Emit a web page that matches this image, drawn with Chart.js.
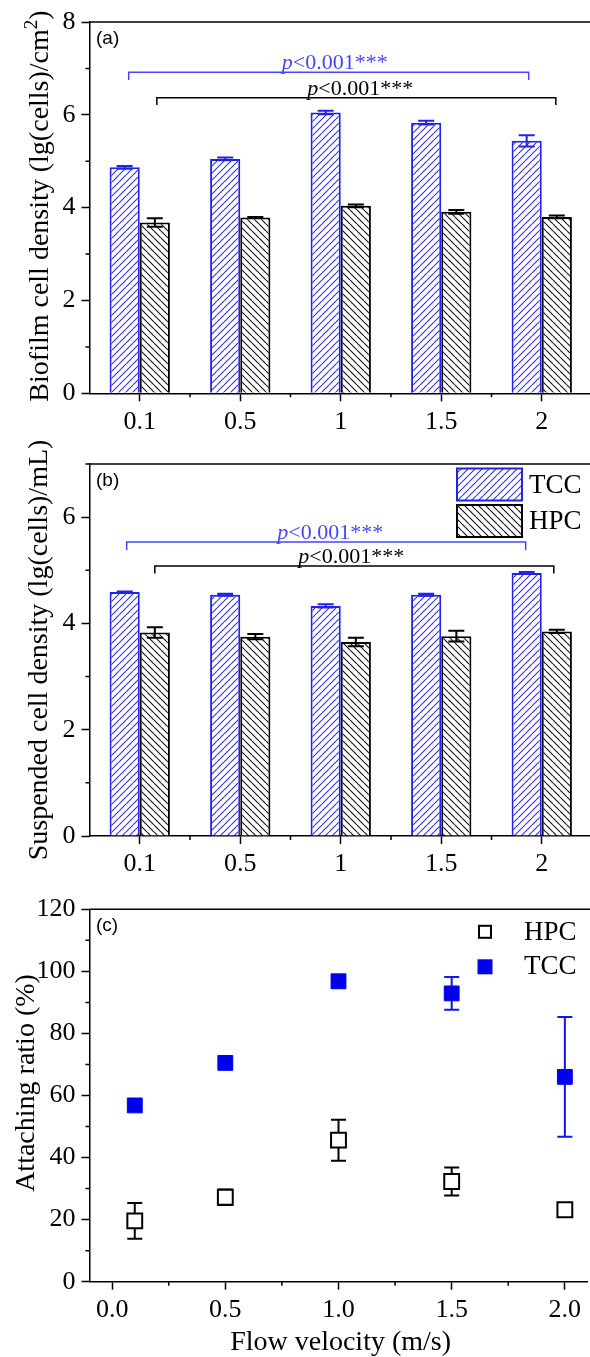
<!DOCTYPE html>
<html>
<head>
<meta charset="utf-8">
<script src="https://cdn.jsdelivr.net/npm/chart.js@4.4.0/dist/chart.umd.min.js"></script>
<style>
html, body { margin: 0; padding: 0; background: #fff; overflow: hidden; width: 590px; height: 1357px; }
.panel { position: absolute; left: 0; }
</style>
</head>
<body>
<div class="panel" style="top:0"><canvas id="chartA" width="600" height="440"></canvas></div>
<div class="panel" style="top:440px"><canvas id="chartB" width="600" height="440"></canvas></div>
<div class="panel" style="top:880px"><canvas id="chartC" width="600" height="477"></canvas></div>
<script>
// values
var CATEGORIES = ['0.1', '0.5', '1', '1.5', '2'];
var BIOFILM_TCC = [4.87, 5.05, 6.05, 5.83, 5.44];
var BIOFILM_TCC_ERR = [0.03, 0.03, 0.04, 0.04, 0.12];
var BIOFILM_HPC = [3.68, 3.79, 4.04, 3.91, 3.80];
var BIOFILM_HPC_ERR = [0.09, 0.01, 0.03, 0.04, 0.03];
var SUSP_TCC = [4.59, 4.54, 4.33, 4.54, 4.95];
var SUSP_TCC_ERR = [0.01, 0.02, 0.03, 0.02, 0.02];
var SUSP_HPC = [3.83, 3.75, 3.65, 3.76, 3.85];
var SUSP_HPC_ERR = [0.10, 0.05, 0.08, 0.10, 0.03];
var VELOCITY = [0.1, 0.5, 1.0, 1.5, 2.0];
var ATTACH_HPC = [19.6, 27.2, 45.6, 32.3, 23.2];
var ATTACH_HPC_ERR = [5.8, 2.5, 6.6, 4.5, 2.2];
var ATTACH_TCC = [56.8, 70.5, 96.8, 92.9, 66.0];
var ATTACH_TCC_ERR = [0.8, 0.8, 1.0, 5.3, 19.3];
var TICKS_A_Y = [0, 2, 4, 6, 8];
var MINOR_A_Y = [1, 3, 5, 7];
var TICKS_B_Y = [0, 2, 4, 6];
var MINOR_B_Y = [1, 3, 5, 7];
var TICKS_C_Y = [0, 20, 40, 60, 80, 100, 120];
var MINOR_C_Y = [10, 30, 50, 70, 90, 110];
var TICKS_C_X = [0, 0.5, 1, 1.5, 2];
var MINOR_C_X = [0.25, 0.75, 1.25, 1.75];
var MINOR_CAT = [0.5, 1.5, 2.5, 3.5];

var SERIF = '"Liberation Serif", "Times New Roman", serif';
var SANS = '"Liberation Sans", Arial, sans-serif';
var BLUE = '#2323e6';
var BLUE_TXT = '#4646ff';

function hatchPattern(color, forward) {
  var s = 7, c = document.createElement('canvas');
  c.width = s; c.height = s;
  var g = c.getContext('2d');
  g.fillStyle = '#fff';
  g.fillRect(0, 0, s, s);
  g.strokeStyle = color;
  g.lineWidth = 1.1;
  g.beginPath();
  for (var k = -1; k <= 1; k++) {
    if (forward) { g.moveTo(k * s, s); g.lineTo(k * s + s, 0); }
    else { g.moveTo(k * s, 0); g.lineTo(k * s + s, s); }
  }
  g.stroke();
  return g.createPattern(c, 'repeat');
}
var HATCH_TCC = hatchPattern('#3030ee', true);
var HATCH_HPC = hatchPattern('#111', false);

// draw a run of text pieces centred on cx
function drawParts(ctx, cx, y, parts, color) {
  var total = 0;
  parts.forEach(function (p) { ctx.font = p.f; p.w = ctx.measureText(p.t).width; total += p.w; });
  var x = cx - total / 2;
  ctx.fillStyle = color;
  ctx.textAlign = 'left';
  parts.forEach(function (p) {
    ctx.font = p.f;
    ctx.fillText(p.t, x, y + (p.dy || 0));
    x += p.w;
  });
}

function drawErr(ctx, x, ys, v, e, color, cap) {
  var y1 = ys.getPixelForValue(v + e), y2 = ys.getPixelForValue(v - e);
  ctx.strokeStyle = color;
  ctx.lineWidth = 2;
  ctx.beginPath();
  ctx.moveTo(x, y1); ctx.lineTo(x, y2);
  ctx.moveTo(x - cap / 2, y1); ctx.lineTo(x + cap / 2, y1);
  ctx.moveTo(x - cap / 2, y2); ctx.lineTo(x + cap / 2, y2);
  ctx.stroke();
}

function pText(size) {
  return [
    { t: 'p', f: 'italic ' + size + 'px ' + SERIF },
    { t: '<0.001', f: size + 'px ' + SERIF },
    { t: '***', f: size + 'px ' + SERIF }
  ];
}

function makeDecor(cfg) {
  return {
    id: 'decor',
    beforeDatasetsDraw: function (chart) {
      if (!cfg.errorsBehind) return;
      drawErrors(chart, cfg);
    },
    afterDatasetsDraw: function (chart) {
      if (cfg.errorsBehind) return;
      drawErrors(chart, cfg);
    },
    afterDraw: function (chart) {
      var ctx = chart.ctx, a = chart.chartArea;
      var xs = chart.scales.x, ys = chart.scales.y;
      ctx.save();
      // top edge of the frame (right edge falls outside the picture)
      ctx.strokeStyle = '#000';
      ctx.lineWidth = 1.5;
      ctx.beginPath();
      ctx.moveTo(a.left, a.top); ctx.lineTo(chart.width, a.top);
      ctx.stroke();
      // minor ticks
      ctx.beginPath();
      cfg.minorY.forEach(function (v) {
        var y = ys.getPixelForValue(v);
        ctx.moveTo(a.left - 4, y); ctx.lineTo(a.left, y);
      });
      cfg.minorX.forEach(function (v) {
        var x = xs.getPixelForValue(v);
        ctx.moveTo(x, a.bottom); ctx.lineTo(x, a.bottom + 4);
      });
      ctx.stroke();
      // panel label
      ctx.fillStyle = '#000';
      ctx.font = '19px ' + SANS;
      ctx.textAlign = 'left';
      ctx.textBaseline = 'middle';
      ctx.fillText(cfg.label, a.left + 6.5, a.top + 16.5);
      // significance brackets
      (cfg.brackets || []).forEach(function (b) {
        var x1 = xs.getPixelForValue(b.from), x2 = xs.getPixelForValue(b.to);
        var y = ys.getPixelForValue(b.level), yd = ys.getPixelForValue(b.drop);
        ctx.strokeStyle = b.color;
        ctx.lineWidth = 1.5;
        ctx.beginPath();
        ctx.moveTo(x1, yd); ctx.lineTo(x1, y); ctx.lineTo(x2, y); ctx.lineTo(x2, yd);
        ctx.stroke();
        ctx.textBaseline = 'alphabetic';
        drawParts(ctx, (x1 + x2) / 2 + b.dx, y - 3, pText(22), b.color);
      });
      // legend
      if (cfg.legend === 'bars') {
        var lx = a.right - 135;
        [[HATCH_TCC, BLUE, 'TCC', a.top + 4.5], [HATCH_HPC, '#000', 'HPC', a.top + 41]].forEach(function (it) {
          ctx.fillStyle = it[0];
          ctx.fillRect(lx, it[3], 65, 32);
          ctx.strokeStyle = it[1];
          ctx.lineWidth = 2;
          ctx.strokeRect(lx, it[3], 65, 32);
          ctx.fillStyle = '#000';
          ctx.font = '27px ' + SERIF;
          ctx.textBaseline = 'middle';
          ctx.fillText(it[2], lx + 72, it[3] + 17);
        });
      } else if (cfg.legend === 'points') {
        var mx = a.right - 102.5;
        ctx.lineWidth = 2;
        ctx.strokeStyle = '#000';
        ctx.fillStyle = '#fff';
        ctx.fillRect(mx - 6, a.top + 22.5 - 6, 12, 12);
        ctx.strokeRect(mx - 6, a.top + 22.5 - 6, 12, 12);
        ctx.fillStyle = '#0000ee';
        ctx.fillRect(mx - 7.5, a.top + 57.5 - 7.5, 15, 15);
        ctx.fillStyle = '#000';
        ctx.font = '27px ' + SERIF;
        ctx.textBaseline = 'middle';
        ctx.fillText('HPC', mx + 39, a.top + 24);
        ctx.fillText('TCC', mx + 39, a.top + 58);
      }
      // axis titles
      ctx.save();
      ctx.translate(cfg.yTitleX, cfg.yTitleY);
      ctx.rotate(-Math.PI / 2);
      ctx.textBaseline = 'middle';
      drawParts(ctx, 0, 0, cfg.yTitle, '#000');
      ctx.restore();
      if (cfg.xTitle) {
        ctx.textBaseline = 'middle';
        drawParts(ctx, cfg.xTitleX, cfg.xTitleY, [{ t: cfg.xTitle, f: '28px ' + SERIF }], '#000');
      }
      ctx.restore();
    }
  };
}

function drawErrors(chart, cfg) {
  var ctx = chart.ctx, ys = chart.scales.y;
  ctx.save();
  cfg.errors.forEach(function (errs, d) {
    var ds = chart.data.datasets[d];
    var meta = chart.getDatasetMeta(d);
    meta.data.forEach(function (el, i) {
      var v = typeof ds.data[i] === 'object' ? ds.data[i].y : ds.data[i];
      drawErr(ctx, el.x, ys, v, errs[i], cfg.errColors[d], cfg.cap);
    });
  });
  ctx.restore();
}

function axisStyle(extra) {
  var o = {
    grid: { display: true, drawOnChartArea: false, drawTicks: true, tickLength: 8, tickColor: '#000', tickWidth: 1.5 },
    border: { display: true, color: '#000', width: 1.5 },
    ticks: { color: '#000', font: { family: SERIF, size: 26 }, maxRotation: 0, autoSkip: false }
  };
  for (var k in extra) {
    if (typeof extra[k] === 'object' && o[k] && !Array.isArray(extra[k])) Object.assign(o[k], extra[k]);
    else o[k] = extra[k];
  }
  return o;
}

function barChart(id, tcc, hpc, yMax, yTicks, padTop, xHeight, decor) {
  return new Chart(document.getElementById(id), {
    type: 'bar',
    data: {
      labels: CATEGORIES,
      datasets: [
        { label: 'TCC', data: tcc, backgroundColor: HATCH_TCC, borderColor: BLUE, borderWidth: 2 },
        { label: 'HPC', data: hpc, backgroundColor: HATCH_HPC, borderColor: '#000', borderWidth: 2 }
      ]
    },
    options: {
      responsive: false,
      animation: false,
      barPercentage: 1,
      categoryPercentage: 0.6,
      layout: { padding: { top: padTop, right: 8, left: 0, bottom: 0 } },
      plugins: { legend: { display: false }, tooltip: { enabled: false } },
      scales: {
        x: axisStyle({
          grid: { offset: false },
          ticks: { padding: 5 },
          afterFit: function (s) { s.height = xHeight; }
        }),
        y: axisStyle({
          min: 0, max: yMax,
          ticks: { padding: 6 },
          afterBuildTicks: function (s) { s.ticks = yTicks.map(function (v) { return { value: v }; }); },
          afterFit: function (s) { s.width = 89.5; }
        })
      }
    },
    plugins: [makeDecor(decor)]
  });
}

barChart('chartA', BIOFILM_TCC, BIOFILM_HPC, 8, TICKS_A_Y, 22, 46.7, {
  label: '(a)',
  minorY: MINOR_A_Y, minorX: MINOR_CAT,
  errors: [BIOFILM_TCC_ERR, BIOFILM_HPC_ERR], errColors: [BLUE, '#000'], cap: 16,
  brackets: [
    { from: -0.11, to: 3.87, level: 6.92, drop: 6.75, color: BLUE_TXT, dx: 6 },
    { from: 0.17, to: 4.14, level: 6.37, drop: 6.21, color: '#000', dx: 4 }
  ],
  yTitleX: 41, yTitleY: 206,
  yTitle: [
    { t: 'Biofilm cell density (lg(cells)/cm', f: '28px ' + SERIF },
    { t: '2', f: '19px ' + SERIF, dy: -9 },
    { t: ')', f: '28px ' + SERIF }
  ]
});

barChart('chartB', SUSP_TCC, SUSP_HPC, 7, TICKS_B_Y, 24, 44, {
  label: '(b)', legend: 'bars',
  minorY: MINOR_B_Y, minorX: MINOR_CAT,
  errors: [SUSP_TCC_ERR, SUSP_HPC_ERR], errColors: [BLUE, '#000'], cap: 16,
  brackets: [
    { from: -0.13, to: 3.84, level: 5.53, drop: 5.38, color: BLUE_TXT, dx: 4 },
    { from: 0.15, to: 4.12, level: 5.08, drop: 4.94, color: '#000', dx: -3 }
  ],
  yTitleX: 40, yTitleY: 210,
  yTitle: [{ t: 'Suspended cell density (lg(cells)/mL)', f: '28px ' + SERIF }]
});

new Chart(document.getElementById('chartC'), {
  type: 'scatter',
  data: {
    datasets: [
      {
        label: 'HPC',
        data: VELOCITY.map(function (x, i) { return { x: x, y: ATTACH_HPC[i] }; }),
        pointStyle: 'rect', pointRadius: 10.5, backgroundColor: '#fff', borderColor: '#000', borderWidth: 2
      },
      {
        label: 'TCC',
        data: VELOCITY.map(function (x, i) { return { x: x, y: ATTACH_TCC[i] }; }),
        pointStyle: 'rect', pointRadius: 10.5, backgroundColor: '#0000ee', borderColor: '#0000ee', borderWidth: 1
      }
    ]
  },
  options: {
    responsive: false,
    animation: false,
    layout: { padding: { top: 29.3, right: 5, left: 0, bottom: 0 } },
    plugins: { legend: { display: false }, tooltip: { enabled: false } },
    scales: {
      x: axisStyle({
        type: 'linear', min: -0.1, max: 2.1,
        ticks: { padding: 5, callback: function (v) { return v.toFixed(1); } },
        afterBuildTicks: function (s) { s.ticks = TICKS_C_X.map(function (v) { return { value: v }; }); },
        afterFit: function (s) { s.height = 75.3; }
      }),
      y: axisStyle({
        min: 0, max: 120,
        ticks: { padding: 6 },
        afterBuildTicks: function (s) { s.ticks = TICKS_C_Y.map(function (v) { return { value: v }; }); },
        afterFit: function (s) { s.width = 89.5; }
      })
    }
  },
  plugins: [makeDecor({
    label: '(c)', legend: 'points', errorsBehind: true,
    minorY: MINOR_C_Y, minorX: MINOR_C_X,
    errors: [ATTACH_HPC_ERR, ATTACH_TCC_ERR], errColors: ['#000', '#1414e6'], cap: 15,
    yTitleX: 27, yTitleY: 203,
    yTitle: [{ t: 'Attaching ratio (%)', f: '28px ' + SERIF }],
    xTitle: 'Flow velocity (m/s)', xTitleX: 340.6, xTitleY: 463
  })]
});
</script>
</body>
</html>
